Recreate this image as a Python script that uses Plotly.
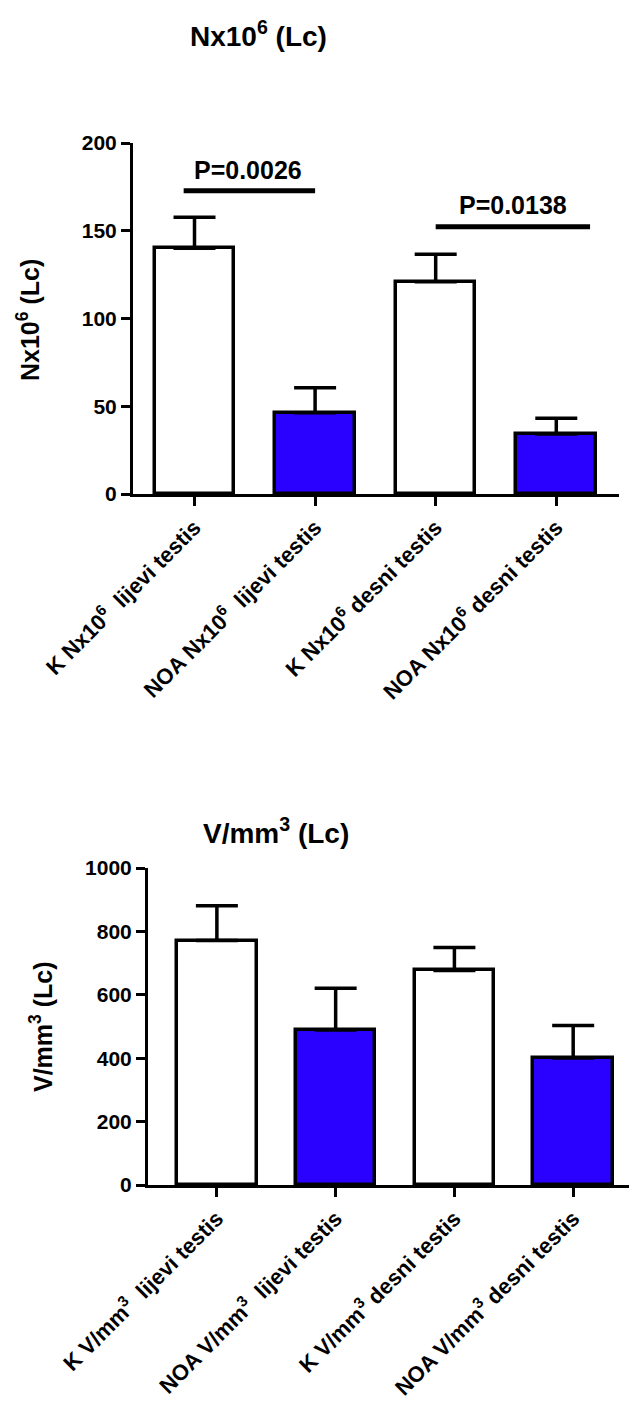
import plotly.graph_objects as go

# --- data ---
groups = [0, 1, 2, 3]

labels_n = ['K Nx10<sup>6</sup>  lijevi testis', 'NOA Nx10<sup>6</sup>  lijevi testis',
            'K Nx10<sup>6</sup> desni testis', 'NOA Nx10<sup>6</sup> desni testis']
mean_n = [140, 46.3, 121, 34.2]
sem_n = [17.7, 14.3, 15.6, 8.9]

labels_v = ['K V/mm<sup>3</sup>  lijevi testis', 'NOA V/mm<sup>3</sup>  lijevi testis',
            'K V/mm<sup>3</sup> desni testis', 'NOA V/mm<sup>3</sup> desni testis']
mean_v = [771, 489, 677, 401]
sem_v = [110, 132, 72, 102]

bar_colors = ['#ffffff', '#2a00ff', '#ffffff', '#2a00ff']

p_texts = ['P=0.0026', 'P=0.0138']

FONT = 'Liberation Sans, Arial, sans-serif'
W, H = 629, 1411

fig = go.Figure()

fig.add_trace(go.Bar(
    x=groups, y=mean_n, width=0.66,
    marker=dict(color=bar_colors, line=dict(color='black', width=3.5)),
    error_y=dict(type='data', symmetric=False, array=sem_n, arrayminus=[0] * 4,
                 color='black', thickness=3.5, width=21),
    xaxis='x', yaxis='y', showlegend=False,
))

fig.add_trace(go.Bar(
    x=groups, y=mean_v, width=0.67,
    marker=dict(color=bar_colors, line=dict(color='black', width=3.5)),
    error_y=dict(type='data', symmetric=False, array=sem_v, arrayminus=[0] * 4,
                 color='black', thickness=3.5, width=21),
    xaxis='x2', yaxis='y2', showlegend=False,
))

axis_common = dict(
    showline=True, linecolor='black', linewidth=3,
    ticks='outside', tickcolor='black', tickwidth=3, ticklen=9,
    showgrid=False, zeroline=False, automargin=False,
)

fig.update_layout(
    width=W, height=H,
    margin=dict(l=0, r=0, t=0, b=0),
    plot_bgcolor='white', paper_bgcolor='white',
    font=dict(family=FONT, color='black'),
    bargap=0,
    xaxis=dict(
        axis_common, domain=[133 / W, 619 / W], range=[-0.51, 3.52],
        tickmode='array', tickvals=groups, ticktext=[f'<b>{t}</b>' for t in labels_n],
        tickangle=-45, tickfont=dict(size=22, family=FONT), anchor='y',
    ),
    yaxis=dict(
        axis_common, domain=[1 - 494 / H, 1 - 143 / H], range=[0, 200],
        tickvals=[0, 50, 100, 150, 200], ticktext=['<b>0</b>', '<b>50</b>', '<b>100</b>', '<b>150</b>', '<b>200</b>'],
        tickfont=dict(size=21, family=FONT), anchor='x',
    ),
    xaxis2=dict(
        axis_common, domain=[148 / W, 1.0], range=[-0.58, 3.47],
        tickmode='array', tickvals=groups, ticktext=[f'<b>{t}</b>' for t in labels_v],
        tickangle=-45, tickfont=dict(size=22, family=FONT), anchor='y2',
    ),
    yaxis2=dict(
        axis_common, domain=[1 - 1185 / H, 1 - 868 / H], range=[0, 1000],
        tickvals=[0, 200, 400, 600, 800, 1000],
        ticktext=[f'<b>{v}</b>' for v in [0, 200, 400, 600, 800, 1000]],
        tickfont=dict(size=21, family=FONT), anchor='x2',
    ),
)

# titles
fig.add_annotation(text='<b>Nx10<sup>6</sup> (Lc)</b>', xref='paper', yref='paper',
                   x=258 / W, y=1 - 34 / H, xanchor='center', yanchor='middle',
                   showarrow=False, font=dict(size=28, family=FONT))
fig.add_annotation(text='<b>V/mm<sup>3</sup> (Lc)</b>', xref='paper', yref='paper',
                   x=276 / W, y=1 - 831 / H, xanchor='center', yanchor='middle',
                   showarrow=False, font=dict(size=28, family=FONT))
fig.add_annotation(text='<b>Nx10<sup>6</sup> (Lc)</b>', xref='paper', yref='paper',
                   x=28 / W, y=1 - 320 / H, xanchor='center', yanchor='middle',
                   showarrow=False, textangle=-90, font=dict(size=25, family=FONT))
fig.add_annotation(text='<b>V/mm<sup>3</sup> (Lc)</b>', xref='paper', yref='paper',
                   x=41 / W, y=1 - 1027 / H, xanchor='center', yanchor='middle',
                   showarrow=False, textangle=-90, font=dict(size=25, family=FONT))

# significance bars
fig.add_shape(type='line', xref='x', yref='y', x0=-0.09, x1=1.0, y0=172.8, y1=172.8,
              line=dict(color='black', width=5))
fig.add_shape(type='line', xref='x', yref='y', x0=2.0, x1=3.28, y0=152.3, y1=152.3,
              line=dict(color='black', width=5))
fig.add_annotation(text=f'<b>{p_texts[0]}</b>', xref='x', yref='y', x=0.44, y=184.5,
                   showarrow=False, font=dict(size=25, family=FONT))
fig.add_annotation(text=f'<b>{p_texts[1]}</b>', xref='x', yref='y', x=2.64, y=164.5,
                   showarrow=False, font=dict(size=25, family=FONT))

fig.write_html("out.html", config={'displayModeBar': False},
               post_script="document.body.style.margin='0px';")
